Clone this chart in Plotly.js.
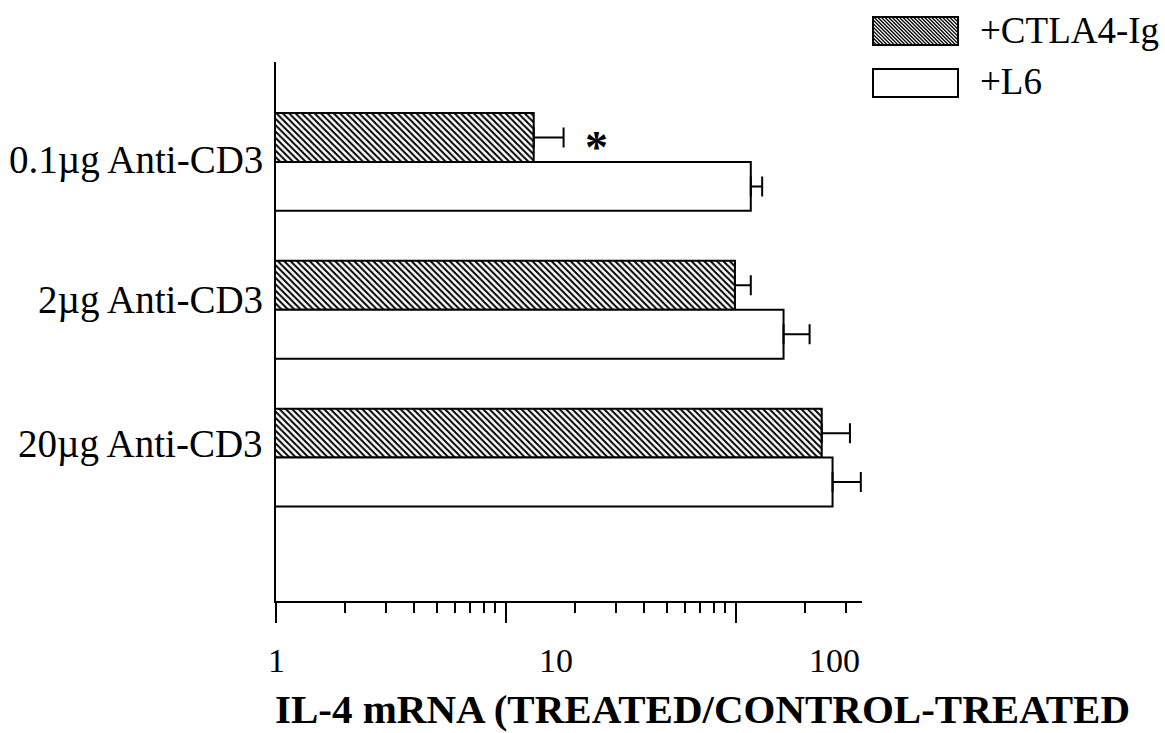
<!DOCTYPE html>
<html>
<head>
<meta charset="utf-8">
<script src="https://cdn.plot.ly/plotly-3.0.1.min.js"></script>
<style>
  html, body { margin: 0; padding: 0; background: #ffffff; }
  #chart { width: 1165px; height: 733px; }
</style>
</head>
<body>
<div id="chart"></div>
<script>
// ---- data ----
const categories = ['0.1µg Anti-CD3', '2µg Anti-CD3', '20µg Anti-CD3'];
const seriesNames = ['+CTLA4-Ig', '+L6'];
const ctla4Values = [13.2, 99, 236];
const ctla4Errors = [4.6, 17, 77];
const l6Values = [116, 161, 263];
const l6Errors = [14, 48, 86];
const xTickValues = [1, 10, 100];
const xTickText = ['1', '10', '100'];
const xAxisTitle = 'IL-4 mRNA (TREATED/CONTROL-TREATED';
const significanceMark = '*';

// ---- layout geometry ----
const W = 1165, H = 733;
const M = {l: 276, r: 303, t: 62, b: 132};
const PW = W - M.l - M.r, PH = H - M.t - M.b;
const px = x => (x - M.l) / PW;
const py = y => (H - M.b - y) / PH;
const serif = 'Liberation Serif, Times New Roman, serif';

const traces = [
  {
    type: 'bar', orientation: 'h', name: seriesNames[0],
    y: categories, x: ctla4Values,
    marker: {
      color: 'white',
      pattern: {shape: '\\', fgcolor: 'black', bgcolor: 'white', size: 4.5, solidity: 0.45},
      line: {color: 'black', width: 2}
    },
    error_x: {type: 'data', symmetric: false, array: ctla4Errors,
              arrayminus: ctla4Errors.map(() => 0),
              color: 'black', thickness: 2, width: 10},
    showlegend: false
  },
  {
    type: 'bar', orientation: 'h', name: seriesNames[1],
    y: categories, x: l6Values,
    marker: {color: 'white', line: {color: 'black', width: 2}},
    error_x: {type: 'data', symmetric: false, array: l6Errors,
              arrayminus: l6Errors.map(() => 0),
              color: 'black', thickness: 2, width: 10},
    showlegend: false
  }
];

const annotations = [];
// category labels
const labelShift = [2, 10, 14];
categories.forEach((c, i) => annotations.push({
  xref: 'paper', yref: 'y', x: px(265), y: c, yshift: labelShift[i],
  xanchor: 'right', yanchor: 'middle', showarrow: false, text: c,
  font: {family: serif, size: 39, color: 'black'}
}));
// x tick labels (placed as in the reference)
const tickLabelPx = [276, 556, 834];
xTickText.forEach((t, i) => annotations.push({
  xref: 'paper', yref: 'paper', x: px(tickLabelPx[i]), y: py(660),
  xanchor: 'center', yanchor: 'middle', showarrow: false, text: t,
  font: {family: serif, size: 34, color: 'black'}
}));
// axis title
annotations.push({
  xref: 'paper', yref: 'paper', x: px(273), y: py(709),
  xanchor: 'left', yanchor: 'middle', showarrow: false,
  text: '<b>' + xAxisTitle + '</b>',
  font: {family: serif, size: 41, color: 'black'}
});
// significance asterisk
annotations.push({
  xref: 'paper', yref: 'paper', x: px(596), y: py(147),
  xanchor: 'center', yanchor: 'middle', showarrow: false, text: '<b>' + significanceMark + '</b>',
  font: {family: serif, size: 46, color: 'black'}
});

// legend drawn with shapes
const shapes = [];
const legendBoxes = [
  {x0: 873, y0: 17, x1: 958, y1: 45, hatch: true, ty: 30},
  {x0: 873, y0: 69, x1: 958, y1: 97, hatch: false, ty: 82}
];
legendBoxes.forEach((b, i) => {
  if (b.hatch) {
    const w = b.x1 - b.x0, h = b.y1 - b.y0;
    for (let c = -h; c < w; c += 3.6) {
      const t0 = Math.max(0, -c), t1 = Math.min(h, w - c);
      if (t1 > t0) {
        shapes.push({type: 'line', xref: 'paper', yref: 'paper',
          x0: px(b.x0 + c + t0), y0: py(b.y0 + t0),
          x1: px(b.x0 + c + t1), y1: py(b.y0 + t1),
          line: {color: 'black', width: 1.3}});
      }
    }
  }
  shapes.push({type: 'rect', xref: 'paper', yref: 'paper',
    x0: px(b.x0), y0: py(b.y0), x1: px(b.x1), y1: py(b.y1),
    line: {color: 'black', width: 2}, fillcolor: 'rgba(0,0,0,0)'});
  annotations.push({xref: 'paper', yref: 'paper', x: px(978), y: py(b.ty),
    xanchor: 'left', yanchor: 'middle', showarrow: false, text: seriesNames[i],
    font: {family: serif, size: 37, color: 'black'}});
});

const layout = {
  width: W, height: H,
  margin: M,
  paper_bgcolor: 'white', plot_bgcolor: 'white',
  barmode: 'group', bargap: 0.338, bargroupgap: 0,
  showlegend: false,
  xaxis: {
    type: 'log', range: [0, 2.548],
    tickmode: 'array', tickvals: xTickValues, ticktext: xTickText,
    showticklabels: false,
    ticks: 'outside', ticklen: 20, tickwidth: 2, tickcolor: 'black',
    minor: {ticks: 'outside', ticklen: 10, tickwidth: 2, tickcolor: 'black', dtick: 'D1', showgrid: false},
    showline: true, linecolor: 'black', linewidth: 2,
    showgrid: false, zeroline: false, fixedrange: true
  },
  yaxis: {
    type: 'category', categoryarray: categories, categoryorder: 'array',
    range: [2.97, -0.676],
    showticklabels: false, ticks: '',
    showline: true, linecolor: 'black', linewidth: 2,
    showgrid: false, zeroline: false, fixedrange: true
  },
  shapes: shapes,
  annotations: annotations
};

Plotly.newPlot('chart', traces, layout, {displayModeBar: false, staticPlot: true});
</script>
</body>
</html>
